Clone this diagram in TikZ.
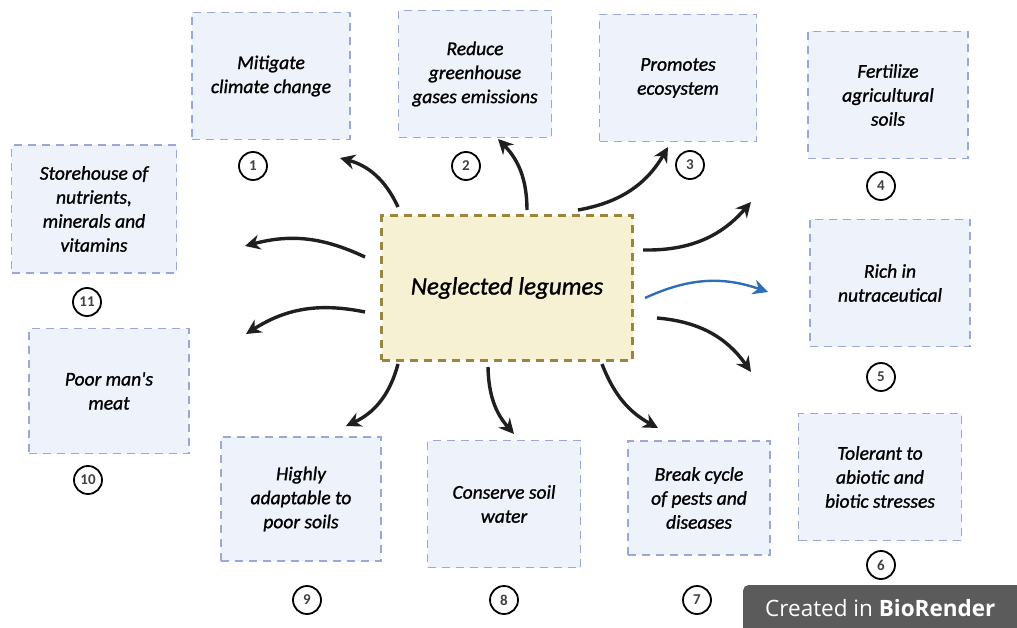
\documentclass[tikz,border=0pt]{standalone}
\usepackage{fontspec}
\setmainfont{Carlito}
\newfontfamily\boxfont[FakeBold=1.2]{Carlito}
\newfontfamily\badgefont{Open Sans}
\usepackage{xcolor}
\usetikzlibrary{shapes,arrows.meta,positioning}

\definecolor{boxfill}{HTML}{EEF2FA}
\definecolor{boxline}{HTML}{9AA8D6}
\definecolor{corefill}{HTML}{F6F1D3}
\definecolor{coreline}{HTML}{9A853A}
\definecolor{badgegray}{HTML}{5B5B5B}
\definecolor{arrowblue}{HTML}{2F6DB5}

\begin{document}
\begin{tikzpicture}[x=1pt, y=-1pt,
	benefit/.style={draw=boxline, line width=1.6pt, dash pattern=on 8pt off 6pt, fill=boxfill, align=center, font=\boxfont\fontsize{19.5}{24}\selectfont\itshape, minimum width=158pt, minimum height=127pt, inner sep=2pt},
	num/.style={draw, circle, line width=1.8pt, minimum size=28pt, inner sep=0pt, font=\fontsize{15}{15}\selectfont\bfseries, text=black!75},
	link/.style={-{Stealth[length=15pt, width=15pt]}, line width=3.4pt, black!88},
	>={Stealth[]}]
	\useasboundingbox (0,0) rectangle (1017,628);

	% centre
	\node (leg) [draw=coreline, line width=3pt, dash pattern=on 8pt off 6pt, fill=corefill, minimum width=251pt, minimum height=144pt, font=\boxfont\fontsize{25}{30}\selectfont\itshape] at (507,288) {Neglected legumes};

	% benefits
	\node (b1) [benefit] at (271,76) {Mitigate\\climate change};
	\node (b2) [benefit, minimum width=153pt] at (475,74) {Reduce\\greenhouse\\gases emissions};
	\node (b3) [benefit, minimum width=157pt] at (678,78) {Promotes\\ecosystem};
	\node (b4) [benefit, minimum width=160pt] at (888,95) {Fertilize\\agricultural\\soils};
	\node (b5) [benefit, minimum width=160pt] at (890,283) {Rich in\\nutraceutical};
	\node (b6) [benefit, minimum width=163pt] at (880,477) {Tolerant to\\abiotic and\\biotic stresses};
	\node (b7) [benefit, minimum width=142pt, minimum height=114pt] at (699,498) {Break cycle\\of  pests and\\diseases};
	\node (b8) [benefit, minimum width=153pt] at (504,504) {Conserve soil\\water};
	\node (b9) [benefit, minimum width=160pt, minimum height=124pt] at (301,499) {Highly\\adaptable to\\poor soils};
	\node (b10) [benefit, minimum width=160pt, minimum height=125pt] at (109,391) {Poor man's\\meat};
	\node (b11) [benefit, minimum width=165pt, minimum height=128pt] at (94,209) {Storehouse of\\nutrients,\\minerals and\\vitamins};

	% numbers
	\node (n1) [num] at (253,166) {1};
	\node (n2) [num] at (466,166) {2};
	\node (n3) [num] at (690,165) {3};
	\node (n4) [num] at (881,186) {4};
	\node (n5) [num] at (881,377) {5};
	\node (n6) [num] at (881,565) {6};
	\node (n7) [num] at (697,600) {7};
	\node (n8) [num] at (504,600) {8};
	\node (n9) [num] at (307,600) {9};
	\node (n10) [num] at (88,480) {10};
	\node (n11) [num] at (87,302) {11};

	% arrow ends
	\coordinate (s1) at (398,207);   \coordinate (t1) at (340,158);
	\coordinate (s2) at (527,210);   \coordinate (t2) at (498,139);
	\coordinate (s3) at (578,210);   \coordinate (t3) at (668,147);
	\coordinate (s4) at (643,250);   \coordinate (t4) at (751,202);
	\coordinate (s5) at (645,298);   \coordinate (t5) at (768,292);
	\coordinate (s6) at (657,318);   \coordinate (t6) at (751,372);
	\coordinate (s7) at (602,364);   \coordinate (t7) at (658,428);
	\coordinate (s8) at (488,367);   \coordinate (t8) at (514,434);
	\coordinate (s9) at (398,364);   \coordinate (t9) at (346,426);
	\coordinate (s10) at (365,312);  \coordinate (t10) at (246,334);
	\coordinate (s11) at (365,257);  \coordinate (t11) at (245,246);

	\draw[link] (s1) to[bend right=25] (t1);
	\draw[link] (s2) to[bend right=22] (t2);
	\draw[link] (s3) to[bend right=25] (t3);
	\draw[link] (s4) to[bend right=25] (t4);
	\draw[link, arrowblue, line width=2.4pt] (s5) to[bend left=22] (t5);
	\draw[link] (s6) to[bend left=25] (t6);
	\draw[link] (s7) to[bend right=20] (t7);
	\draw[link] (s8) to[bend right=20] (t8);
	\draw[link] (s9) to[bend left=25] (t9);
	\draw[link] (s10) to[bend right=22] (t10);
	\draw[link] (s11) to[bend right=20] (t11);

	% badge
	\node (badge) [fill=badgegray, rounded corners=5pt, anchor=north west, minimum width=290pt, minimum height=56pt, inner sep=0pt] at (743,585) {};
	\node (badgetext) [anchor=west, text=white, inner sep=0pt, font=\badgefont\fontsize{22.5}{22.5}\selectfont] at (765,608) {Created in \textbf{BioRender}};
\end{tikzpicture}
\end{document}
